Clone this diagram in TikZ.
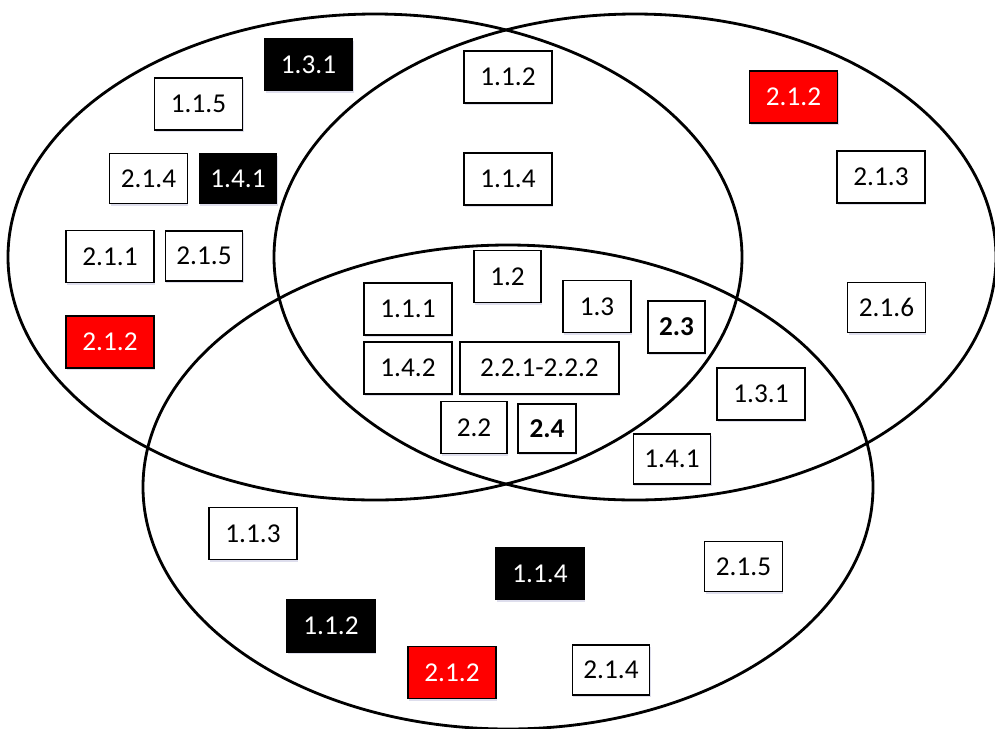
\documentclass[tikz,border=0pt]{standalone}
\usepackage{fontspec}
\setmainfont{Carlito}
\usepackage{tikz}
\usetikzlibrary{shadows}

\begin{document}
\begin{tikzpicture}[x=0.02cm,y=-0.02cm,
  item/.style={draw,rectangle,line width=0.8pt,fill=white,inner sep=0pt,
    minimum width=1.76cm,minimum height=1.04cm,
    font=\fontsize{15.5}{18}\selectfont,
    drop shadow={shadow xshift=0.6pt,shadow yshift=-1.2pt,fill=blue!30!gray,opacity=0.2}},
  narrow/.style={item,minimum width=1.55cm,minimum height=1cm},
  dark/.style={fill=black,text=white},
  hot/.style={fill=red,text=white},
  set/.style={line width=1.6pt}]
\useasboundingbox (0,0) rectangle (995,728);

% the three sets
\draw[set] (375,257) ellipse [x radius=367,y radius=243];
\draw[set] (635,257) ellipse [x radius=361,y radius=243];
\draw[set] (508,487) ellipse [x radius=365,y radius=242];

% left set only
\node [item,dark] (l131) at(308.5,64.5){1.3.1};
\node [item] (l115) at(198.5,104){1.1.5};
\node [narrow] (l214) at(148.5,178.5){2.1.4};
\node [narrow,dark] (l141) at(238,178.5){1.4.1};
\node [item] (l211) at(110,256.5){2.1.1};
\node [narrow] (l215) at(204,256){2.1.5};
\node [item,hot] (l212) at(110,342){2.1.2};

% left and right
\node [item] (t112) at(508,77){1.1.2};
\node [item] (t114) at(508,179){1.1.4};

% all three
\node [item,minimum width=1.34cm] (c12) at(507.5,276.5){1.2};
\node [item] (c111) at(408,309){1.1.1};
\node [item,minimum width=1.36cm] (c13) at(597,306.5){1.3};
\node [item,minimum width=1.14cm,font=\fontsize{15.5}{18}\selectfont\bfseries] (c23) at(676.5,327){2.3};
\node [item] (c142) at(408,368){1.4.2};
\node [item,minimum width=3.18cm] (c2212) at(539.5,368){2.2.1-2.2.2};
\node [item,minimum width=1.32cm] (c22) at(474,427.5){2.2};
\node [item,minimum width=1.16cm,minimum height=0.98cm,font=\fontsize{15.5}{18}\selectfont\bfseries] (c24) at(547,428.5){2.4};

% right and bottom
\node [item] (rb131) at(761,394){1.3.1};
\node [narrow] (rb141) at(672,459){1.4.1};

% right set only
\node [item,hot] (r212) at(793.5,97){2.1.2};
\node [item] (r213) at(881,177){2.1.3};
\node [narrow] (r216) at(886.5,307.5){2.1.6};

% bottom set only
\node [item] (b113) at(253,533.5){1.1.3};
\node [item,dark] (b114) at(540,573.5){1.1.4};
\node [narrow] (b215) at(743.5,566.5){2.1.5};
\node [item,dark] (b112) at(331,626){1.1.2};
\node [item,hot] (b212) at(452,672.5){2.1.2};
\node [narrow] (b214) at(611,670){2.1.4};

\end{tikzpicture}
\end{document}
